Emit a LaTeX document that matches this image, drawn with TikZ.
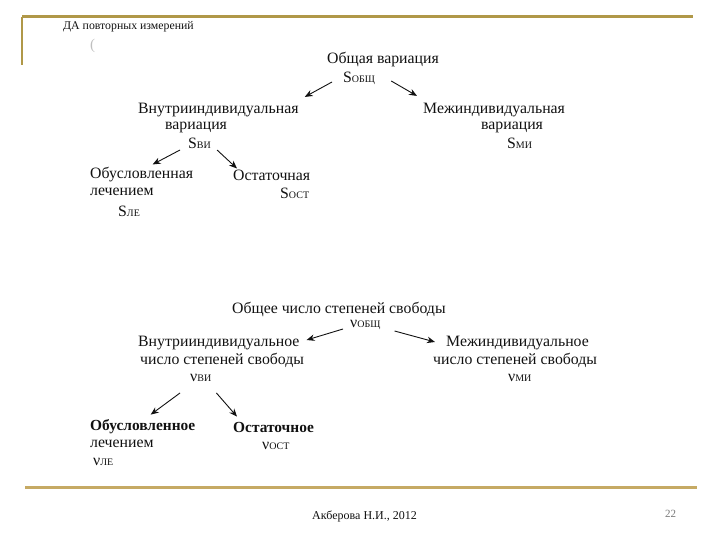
\documentclass[tikz,border=0pt]{standalone}
\usepackage{fontspec}
\setmainfont{Liberation Serif}
\usetikzlibrary{arrows.meta,positioning,calc}
\definecolor{barGold}{RGB}{176,152,72}
\definecolor{lineGold}{RGB}{198,170,100}
\definecolor{inkBlack}{RGB}{17,17,17}
\definecolor{pageGray}{RGB}{120,120,120}
\tikzset{
  lbl/.style={anchor=west, inner sep=0pt, text=inkBlack, font=\fontsize{15.8pt}{17pt}\selectfont},
  blbl/.style={lbl, font=\fontsize{15.4pt}{17pt}\selectfont\bfseries},
  arr/.style={-{Stealth[length=8pt,width=6.5pt]}, line width=0.9pt, draw=inkBlack},
}
\newcommand{\lowidx}[1]{{\fontsize{10pt}{10pt}\selectfont #1}}

\begin{document}
\begin{tikzpicture}[x=1pt,y=-1pt]
\useasboundingbox (0,0) rectangle (720,540);
% slide frame
\draw[barGold, line width=3pt] (22,17) -- (693,17);
\draw[barGold, line width=2pt] (22,17) -- (22,65);
\draw[lineGold, line width=3pt] (25,487) -- (697,487);
\node[lbl, font=\fontsize{11.8pt}{14pt}\selectfont] (title) at (63,27) {ДА повторных измерений};
\node[lbl, text=black!25, font=\fontsize{15pt}{16pt}\selectfont] (paren) at (90,46) {(};

% variation
\node[lbl] (obsh) at (327,60) {Общая вариация};
\node[lbl] (sobsh) at (343,78) {S\lowidx{ОБЩ}};
\node[lbl] (vnutr) at (138,110) {Внутрииндивидуальная};
\node[lbl] (vnutrvar) at (165,127) {вариация};
\node[lbl] (svi) at (188,143) {S\lowidx{ВИ}};
\node[lbl] (mezh) at (423,110) {Межиндивидуальная};
\node[lbl] (mezhvar) at (481,127) {вариация};
\node[lbl] (smi) at (507,143) {S\lowidx{МИ}};
\node[lbl] (obusl) at (90,175) {Обусловленная};
\node[lbl] (lech) at (90,192) {лечением};
\node[lbl] (sle) at (118,211) {S\lowidx{ЛЕ}};
\node[lbl] (ostat) at (233,175) {Остаточная};
\node[lbl] (sost) at (280,193) {S\lowidx{ОСТ}};

\draw[arr] ($(sobsh.west)+(-11,4)$) -- ($(vnutr.north east)+(6,-6)$);
\draw[arr] ($(sobsh.east)+(16,3)$) -- ($(mezh.north west)+(-6,-7)$);
\draw[arr] ($(svi.west)+(-8,7)$) -- ($(obusl.north)+(11,-3)$);
\draw[arr] ($(svi.east)+(6,7)$) -- ($(ostat.north west)+(4,-1)$);

% degrees of freedom
\node[lbl] (obshnu) at (232,309) {Общее число степеней свободы};
\node[lbl] (nuobsh) at (350,325) {ν\lowidx{ОБЩ}};
\node[lbl] (vnutrnu) at (138,343) {Внутрииндивидуальное};
\node[lbl] (vnutrch) at (140,360) {число степеней свободы};
\node[lbl] (nuvi) at (190,378) {ν\lowidx{ВИ}};
\node[lbl] (mezhnu) at (446,343) {Межиндивидуальное};
\node[lbl] (mezhch) at (433,360) {число степеней свободы};
\node[lbl] (numi) at (508,378) {ν\lowidx{МИ}};
\node[blbl] (obuslnu) at (90,427) {Обусловленное};
\node[lbl] (lechnu) at (90,444) {лечением};
\node[lbl] (nule) at (93,462) {ν\lowidx{ЛЕ}};
\node[blbl] (ostatnu) at (233,427) {Остаточное};
\node[lbl] (nuost) at (262,446) {ν\lowidx{ОСТ}};

\draw[arr] ($(nuobsh.west)+(-7,4)$) -- ($(vnutrnu.east)+(7,-3)$);
\draw[arr] ($(nuobsh.east)+(14,6)$) -- ($(mezhnu.west)+(-11,-1)$);
\draw[arr] ($(nuvi.west)+(-10,15)$) -- ($(obuslnu.north)+(8,-5)$);
\draw[arr] ($(nuvi.east)+(5,15)$) -- ($(ostatnu.north west)+(4,-5)$);

% footer
\node[lbl, font=\fontsize{12pt}{14pt}\selectfont] (author) at (312,516) {Акберова Н.И., 2012};
\node[lbl, text=pageGray, font=\fontsize{11pt}{12pt}\selectfont] (pagenum) at (665,514) {22};
\end{tikzpicture}
\end{document}
